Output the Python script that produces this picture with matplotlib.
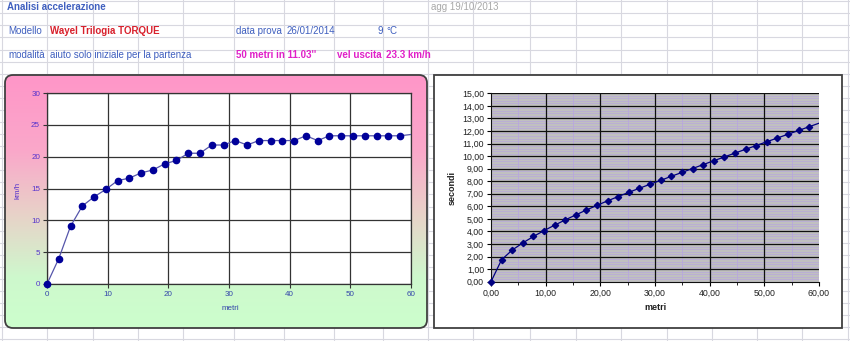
import numpy as np
import matplotlib
matplotlib.use("Agg")
import matplotlib.pyplot as plt
from matplotlib.patches import FancyBboxPatch, Rectangle
from matplotlib.ticker import MultipleLocator, FuncFormatter

plt.rcParams['font.family'] = ['Liberation Sans', 'DejaVu Sans']

# data
metri = [0, 1.94, 3.88, 5.82, 7.76, 9.70, 11.64, 13.58, 15.52, 17.46, 19.40,
         21.34, 23.28, 25.22, 27.16, 29.10, 31.04, 32.98, 34.92, 36.86, 38.80,
         40.74, 42.68, 44.62, 46.56, 48.50, 50.44, 52.38, 54.32, 56.26, 58.20,
         60.14]
kmh = [0, 3.99, 9.07, 12.25, 13.69, 14.86, 16.24, 16.63, 17.46, 17.91, 18.88,
       19.40, 20.54, 20.54, 21.83, 21.83, 22.53, 21.83, 22.53, 22.53, 22.53,
       22.53, 23.28, 22.53, 23.28, 23.28, 23.28, 23.28, 23.28, 23.28, 23.28,
       23.50]
secondi = [0, 1.75, 2.52, 3.09, 3.60, 4.07, 4.50, 4.92, 5.32, 5.71, 6.08,
           6.44, 6.78, 7.12, 7.44, 7.76, 8.07, 8.39, 8.70, 9.01, 9.32, 9.63,
           9.93, 10.24, 10.54, 10.84, 11.14, 11.44, 11.74, 12.04, 12.34, 12.64]

kmh_ticks = [0, 5, 10, 15, 20, 25, 30]
metri_ticks = [0, 10, 20, 30, 40, 50, 60]

W, H = 850, 341
fig = plt.figure(figsize=(W / 100, H / 100), dpi=100)

# spreadsheet background, pixel coordinates
bg = fig.add_axes([0, 0, 1, 1])
bg.axis('off')

cols = [2, 47, 93, 138, 183, 234, 284, 334, 383, 428, 473, 530, 576, 621,
        667, 712, 757, 802, 848]
for x in cols:
    bg.plot([x, x], [0, H], color='#D8D8E0', lw=0.8, zorder=1)
for y in np.arange(1.2, H, 12.08):
    bg.plot([0, W], [y, y], color='#D8D8E0', lw=0.8, zorder=1)

blue = '#3F5FBF'
mag = '#E020C8'
bg.text(7, 7, 'Analisi accelerazione', color=blue, fontsize=7, fontweight='bold', va='center')
bg.text(8, 31, 'Modello', color=blue, fontsize=7, va='center')
bg.text(50, 31, 'Wayel Trilogia TORQUE', color='#D8202C', fontsize=7, fontweight='bold', va='center')
bg.text(236, 31, 'data prova', color=blue, fontsize=7, va='center')
bg.text(287, 31, '26/01/2014', color=blue, fontsize=7, va='center')
bg.text(383, 31, '9', color=blue, fontsize=7, va='center', ha='right')
bg.text(386, 31, '°C', color=blue, fontsize=7, va='center')
bg.text(8, 55, 'modalità', color=blue, fontsize=7, va='center')
bg.text(50, 55, 'aiuto solo iniziale per la partenza', color=blue, fontsize=7, va='center')
bg.text(236, 55, "50 metri in 11.03''", color=mag, fontsize=7, fontweight='bold', va='center')
bg.text(337, 55, 'vel uscita', color=mag, fontsize=7, fontweight='bold', va='center')
bg.text(386, 55, '23.3 km/h', color=mag, fontsize=7, fontweight='bold', va='center')
bg.text(431, 7, 'agg 19/10/2013', color='#A8A8A8', fontsize=7, va='center')

# left chart box with pink -> green gradient
stops = np.array([0.0, 0.3, 0.55, 0.8, 1.0])
cr = np.array([255, 250, 232, 206, 204]) / 255
cg = np.array([150, 168, 210, 248, 255]) / 255
cb = np.array([200, 202, 200, 205, 204]) / 255
t = np.linspace(0, 1, 256)
grad = np.dstack([np.interp(t, stops, cr), np.interp(t, stops, cg),
                  np.interp(t, stops, cb)]).reshape(256, 1, 3)
box = FancyBboxPatch((5, 75), 422, 253, boxstyle='round,pad=0,rounding_size=8',
                     fc='none', ec='#404040', lw=1.3, zorder=4)
bg.add_patch(box)
im = bg.imshow(grad, extent=(5, 427, 328, 75), origin='upper', aspect='auto', zorder=3)
im.set_clip_path(box)

# right chart box
bg.add_patch(Rectangle((434, 75), 408, 253, fc='white', ec='#404040', lw=1.3, zorder=3))

bg.text(18, 190, 'km/h', color='#5533CC', fontsize=5.8, rotation=90, ha='center', va='center', zorder=5)
bg.text(230, 308, 'metri', color='#3344AA', fontsize=5.8, ha='center', va='center', zorder=5)
bg.text(452, 188, 'secondi', color='#202020', fontsize=6.5, fontweight='bold', rotation=90,
        ha='center', va='center', zorder=5)
bg.text(655, 307, 'metri', color='#202020', fontsize=6.5, fontweight='bold', ha='center',
        va='center', zorder=5)

bg.set_xlim(0, W)
bg.set_ylim(H, 0)

# left chart: speed
ax1 = fig.add_axes([47 / W, 1 - 284 / H, 364 / W, 191 / H])
ax1.set_facecolor('white')
ax1.plot(metri, kmh, color='#5555AA', lw=0.9, zorder=3)
ax1.plot(metri[:31], kmh[:31], ls='none', marker='o', ms=4.5, mfc='#000099',
         mec='#000099', clip_on=False, zorder=4)
ax1.set_xlim(0, 60)
ax1.set_ylim(0, 30)
ax1.set_xticks(metri_ticks)
ax1.set_yticks(kmh_ticks)
ax1.grid(True, color='#333333', lw=0.9)
ax1.set_axisbelow(True)
for s in ax1.spines.values():
    s.set_color('#333333')
    s.set_linewidth(0.9)
ax1.tick_params(direction='out', length=3, width=0.8, color='#333333', labelsize=5.8, pad=2)
for lab in ax1.get_yticklabels():
    lab.set_color('#5533CC')
for lab in ax1.get_xticklabels():
    lab.set_color('#3344AA')

# right chart: time
ax2 = fig.add_axes([491 / W, 1 - 281.7 / H, 328 / W, 188.4 / H])
ax2.set_facecolor('#C0C0C0')
# gridlines by hand so the black ones sit over the lavender ones
for v in np.arange(0.2, 15, 0.2):
    if abs(v - round(v)) > 0.01:
        ax2.axhline(v, color='#B8A8DC', lw=0.5, zorder=1)
for v in range(5, 60, 10):
    ax2.axvline(v, color='#B8A8DC', lw=0.6, zorder=1)
for v in range(1, 16):
    ax2.axhline(v, color='#101010', lw=0.9, zorder=2)
for v in range(10, 60, 10):
    ax2.axvline(v, color='#101010', lw=0.9, zorder=2)
ax2.plot(metri, secondi, color='#000080', lw=0.9, zorder=3)
ax2.plot(metri[:31], secondi[:31], ls='none', marker='D', ms=3.2, mfc='#000080',
         mec='#000080', clip_on=False, zorder=4)
ax2.set_xlim(0, 60)
ax2.set_ylim(0, 15)
ax2.xaxis.set_major_locator(MultipleLocator(10))
ax2.xaxis.set_minor_locator(MultipleLocator(5))
ax2.yaxis.set_major_locator(MultipleLocator(1))
fmt = FuncFormatter(lambda v, p: '{:.2f}'.format(v).replace('.', ','))
ax2.xaxis.set_major_formatter(fmt)
ax2.yaxis.set_major_formatter(fmt)
for s in ['top', 'right']:
    ax2.spines[s].set_visible(False)
for s in ['left', 'bottom']:
    ax2.spines[s].set_color('#101010')
ax2.tick_params(which='major', direction='out', length=3, width=0.8, labelsize=6.3,
                labelcolor='#202020', pad=2)
ax2.tick_params(axis='x', which='minor', direction='out', length=2, width=0.6)

fig.savefig('out.png', dpi=100)
